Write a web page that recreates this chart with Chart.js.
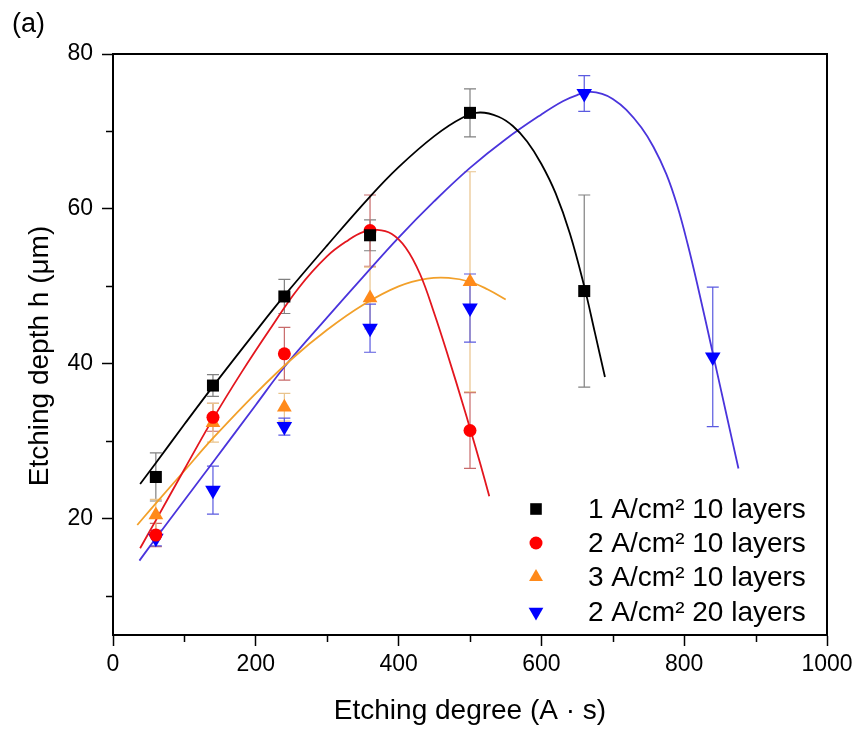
<!DOCTYPE html>
<html>
<head>
<meta charset="utf-8">
<script src="https://cdn.jsdelivr.net/npm/chart.js"></script>
<style>
  html, body { margin: 0; padding: 0; background: #ffffff; }
  #wrap { position: relative; width: 859px; height: 731px; }
  canvas { display: block; }
</style>
</head>
<body>
<div id="wrap"><canvas id="c" width="859" height="731"></canvas></div>
<script>
// ---------- data ----------
const xTicks = [0, 200, 400, 600, 800, 1000];
const xMinorTicks = [100, 300, 500, 700, 900];
const yTicks = [20, 40, 60, 80];
const yMinorTicks = [10, 30, 50, 70];

const xTitle = 'Etching degree (A \u00B7 s)';
const yTitle = 'Etching depth h (\u03BCm)';
const legendLabels = ['1 A/cm\u00B2 10 layers', '2 A/cm\u00B2 10 layers', '3 A/cm\u00B2 10 layers', '2 A/cm\u00B2 20 layers'];

// measured points with error bars
const xBlack = [60, 140, 240, 360, 500, 660];
const yBlack = [25.4, 37.2, 48.7, 56.6, 72.4, 49.4];
const eBlack = [3.1, 1.4, 2.2, 2.0, 3.1, 12.4];

const xRed = [60, 140, 240, 360, 500];
const yRed = [17.9, 33.1, 41.3, 57.2, 31.4];
const eRed = [1.5, 1.8, 3.4, 4.6, 4.9];

const xOrange = [60, 140, 240, 360, 500];
const yOrange = [20.5, 32.4, 34.4, 48.5, 50.6];
const eOrange = [2.0, 2.5, 1.8, 4.0, 14.2];

const xBlue = [60, 140, 240, 360, 500, 660, 840];
const yBlue = [17.5, 23.7, 31.9, 44.6, 47.2, 74.9, 40.9];
const eBlue = [1.0, 3.1, 1.1, 3.1, 4.4, 2.3, 9.0];

// fitted curves
const fitBlackX = [38, 60, 100, 140, 200, 240, 300, 360, 400, 450, 490, 514, 540, 560, 580, 600, 620, 640, 660, 675, 689];
const fitBlackY = [24.5, 27.2, 32.2, 37.1, 44.2, 48.8, 55.3, 61.6, 65.4, 69.4, 71.8, 72.45, 71.9, 70.7, 68.7, 65.8, 62.0, 56.8, 50.0, 44.0, 38.3];

const fitRedX = [38, 60, 100, 140, 180, 220, 260, 300, 330, 350, 370, 390, 410, 430, 450, 470, 490, 500, 515, 527];
const fitRedY = [16.2, 19.8, 26.4, 32.9, 38.9, 44.5, 49.8, 53.9, 56.0, 57.0, 57.3, 56.8, 55.0, 51.6, 46.5, 40.8, 34.8, 31.7, 26.9, 22.9];

const fitOrangeX = [34, 60, 100, 140, 200, 250, 300, 350, 400, 440, 470, 500, 525, 550];
const fitOrangeY = [19.2, 22.0, 26.2, 30.4, 36.2, 40.6, 44.4, 47.6, 50.0, 51.0, 51.1, 50.6, 49.6, 48.3];

const fitBlueX = [37, 60, 100, 140, 200, 240, 300, 350, 400, 450, 500, 550, 600, 630, 650, 668, 685, 700, 719, 740, 757, 775, 790, 805, 820, 840, 860, 876];
const fitBlueY = [14.6, 17.5, 22.4, 27.3, 34.7, 39.6, 46.0, 51.2, 56.3, 61.0, 65.3, 69.0, 72.2, 73.9, 74.7, 75.1, 74.85, 74.2, 72.8, 70.5, 68.0, 64.5, 60.5, 55.4, 49.6, 41.4, 33.1, 26.5];

// ---------- styling ----------
const FONT = '"Liberation Sans", Arial, Helvetica, sans-serif';
const series = [
  { x: xBlack, y: yBlack, e: eBlack, fx: fitBlackX, fy: fitBlackY, marker: '#000000', line: '#000000', err: '#808080', style: 'rect', radius: 8.5, rot: 0 },
  { x: xRed, y: yRed, e: eRed, fx: fitRedX, fy: fitRedY, marker: '#ff0000', line: '#e3161e', err: '#c86a6a', style: 'circle', radius: 6.5, rot: 0 },
  { x: xOrange, y: yOrange, e: eOrange, fx: fitOrangeX, fy: fitOrangeY, marker: '#ff8a1a', line: '#f2a02a', err: '#e9c48c', style: 'triangle', radius: 8.5, rot: 0 },
  { x: xBlue, y: yBlue, e: eBlue, fx: fitBlueX, fy: fitBlueY, marker: '#0000ff', line: '#4a34dc', err: '#5a5ae0', style: 'triangle', radius: 9, rot: 180 }
];

const toPts = (xs, ys) => xs.map((v, i) => ({ x: v, y: ys[i] }));

const datasets = [];
series.forEach((s, i) => {
  datasets.push({
    label: 'fit' + i,
    data: toPts(s.fx, s.fy),
    showLine: true,
    borderColor: s.line,
    borderWidth: 1.8,
    pointRadius: 0,
    tension: 0.4,
    fill: false,
    order: 10
  });
});
series.forEach((s, i) => {
  datasets.push({
    label: legendLabels[i],
    data: toPts(s.x, s.y),
    showLine: false,
    pointStyle: s.style,
    pointRadius: s.radius,
    pointRotation: s.rot,
    pointBackgroundColor: s.marker,
    pointBorderColor: s.marker,
    pointBorderWidth: 0,
    order: 0
  });
});

// error bars, minor ticks, frame, legend, panel label
const errorBars = {
  id: 'errorBars',
  beforeDatasetsDraw(chart) {
    const ctx = chart.ctx, xs = chart.scales.x, ys = chart.scales.y;
    series.forEach(s => {
      ctx.save();
      ctx.strokeStyle = s.err;
      ctx.lineWidth = 1.2;
      s.x.forEach((xv, i) => {
        const px = xs.getPixelForValue(xv);
        const top = ys.getPixelForValue(s.y[i] + s.e[i]);
        const bot = ys.getPixelForValue(s.y[i] - s.e[i]);
        ctx.beginPath();
        ctx.moveTo(px, top); ctx.lineTo(px, bot);
        ctx.moveTo(px - 6, top); ctx.lineTo(px + 6, top);
        ctx.moveTo(px - 6, bot); ctx.lineTo(px + 6, bot);
        ctx.stroke();
      });
      ctx.restore();
    });
  }
};

function drawMarker(ctx, style, x, y, r, rot) {
  ctx.beginPath();
  if (style === 'rect') {
    const h = r * Math.SQRT1_2;
    ctx.rect(x - h, y - h, 2 * h, 2 * h);
  } else if (style === 'circle') {
    ctx.arc(x, y, r, 0, Math.PI * 2);
  } else {
    let a = rot * Math.PI / 180;
    ctx.moveTo(x + Math.sin(a) * r, y - Math.cos(a) * r);
    a += 2 * Math.PI / 3;
    ctx.lineTo(x + Math.sin(a) * r, y - Math.cos(a) * r);
    a += 2 * Math.PI / 3;
    ctx.lineTo(x + Math.sin(a) * r, y - Math.cos(a) * r);
    ctx.closePath();
  }
  ctx.fill();
}

const decor = {
  id: 'decor',
  afterDraw(chart) {
    const ctx = chart.ctx, a = chart.chartArea, xs = chart.scales.x, ys = chart.scales.y;
    ctx.save();
    // frame top & right
    ctx.strokeStyle = '#000';
    ctx.lineWidth = 2;
    ctx.beginPath();
    ctx.moveTo(a.left - 1, a.top); ctx.lineTo(a.right, a.top); ctx.lineTo(a.right, a.bottom + 1);
    ctx.stroke();
    // minor ticks
    ctx.lineWidth = 1.5;
    ctx.beginPath();
    xMinorTicks.forEach(v => {
      const px = Math.round(xs.getPixelForValue(v)) + 0.5;
      ctx.moveTo(px, a.bottom); ctx.lineTo(px, a.bottom + 7);
    });
    yMinorTicks.forEach(v => {
      const py = Math.round(ys.getPixelForValue(v)) + 0.5;
      ctx.moveTo(a.left, py); ctx.lineTo(a.left - 7, py);
    });
    ctx.stroke();
    // y axis title
    ctx.save();
    ctx.translate(40, 356);
    ctx.rotate(-Math.PI / 2);
    ctx.font = '28px ' + FONT;
    ctx.fillStyle = '#000';
    ctx.textAlign = 'center';
    ctx.textBaseline = 'middle';
    ctx.fillText(yTitle, 0, 0);
    ctx.restore();
    // legend
    const lx = 536, tx = 588, rows = [509, 543, 577, 612];
    const lr = [8.2, 6.5, 8, 8.5];
    ctx.font = '28px ' + FONT;
    ctx.textBaseline = 'middle';
    ctx.textAlign = 'left';
    series.forEach((s, i) => {
      ctx.fillStyle = s.marker;
      drawMarker(ctx, s.style, lx, rows[i], lr[i], s.rot);
      ctx.fillStyle = '#000';
      ctx.fillText(legendLabels[i], tx, rows[i] + 1);
    });
    // panel label
    ctx.font = '27px ' + FONT;
    ctx.fillStyle = '#000';
    ctx.fillText('(a)', 12, 25);
    ctx.restore();
  }
};

new Chart(document.getElementById('c'), {
  type: 'scatter',
  data: { datasets },
  plugins: [errorBars, decor],
  options: {
    responsive: false,
    devicePixelRatio: 1,
    animation: false,
    events: [],
    layout: { padding: { top: 54, right: 32, left: 0, bottom: 0 } },
    plugins: { legend: { display: false }, tooltip: { enabled: false } },
    scales: {
      x: {
        type: 'linear',
        min: 0, max: 1000,
        afterBuildTicks: (sc) => { sc.ticks = xTicks.map(v => ({ value: v })); },
        afterFit: (sc) => { sc.height = 96; },
        grid: { display: true, drawOnChartArea: false, drawTicks: true, tickLength: 11, tickColor: '#000', tickWidth: 1.5 },
        border: { display: true, color: '#000', width: 2 },
        ticks: { color: '#000', font: { family: FONT, size: 23 }, padding: 5, maxRotation: 0, autoSkip: false, callback: (v) => String(v) },
        title: { display: true, text: xTitle, color: '#000', font: { family: FONT, size: 28 }, padding: { top: 0, bottom: 3 } }
      },
      y: {
        type: 'linear',
        min: 5, max: 80,
        afterBuildTicks: (sc) => { sc.ticks = yTicks.map(v => ({ value: v })); },
        afterFit: (sc) => { sc.width = 113; },
        grid: { display: true, drawOnChartArea: false, drawTicks: true, tickLength: 11, tickColor: '#000', tickWidth: 1.5 },
        border: { display: true, color: '#000', width: 2 },
        ticks: { color: '#000', font: { family: FONT, size: 23 }, padding: 9, autoSkip: false, callback: (v) => String(v) },
        title: { display: false }
      }
    }
  }
});
</script>
</body>
</html>
